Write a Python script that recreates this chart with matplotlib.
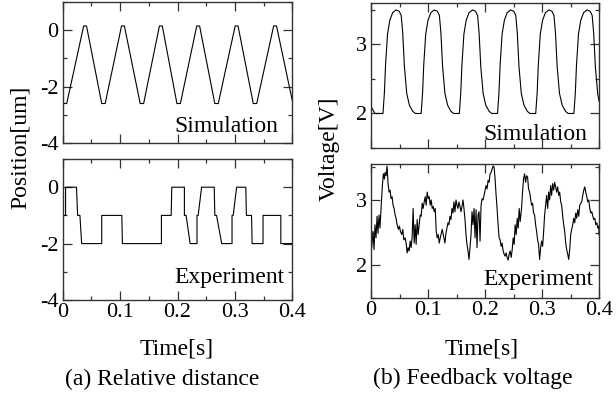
import matplotlib
matplotlib.use('Agg')
import matplotlib.pyplot as plt
from matplotlib.ticker import MultipleLocator, FormatStrFormatter

plt.rcParams['font.family'] = ['Liberation Serif', 'DejaVu Serif']
plt.rcParams['axes.unicode_minus'] = False

# (a) relative distance, simulation: triangle wave vertices
pos_sim_t = [0.000, 0.002, 0.007, 0.0365, 0.0415, 0.068, 0.074, 0.1025, 0.1075,
             0.135, 0.141, 0.1685, 0.1735, 0.199, 0.205, 0.2335, 0.2385,
             0.265, 0.271, 0.3005, 0.3055, 0.332, 0.338, 0.3675, 0.3725, 0.400]
pos_sim_v = [-2.42, -2.60, -2.60, 0.15, 0.15, -2.60, -2.60, 0.15, 0.15,
             -2.60, -2.60, 0.15, 0.15, -2.60, -2.60, 0.15, 0.15,
             -2.60, -2.60, 0.15, 0.15, -2.60, -2.60, 0.15, 0.15, -2.50]

# (a) relative distance, experiment: step trace vertices
pos_exp_t = [0.000, 0.005, 0.005, 0.024, 0.026, 0.030, 0.033, 0.068, 0.068, 0.103,
             0.104, 0.172, 0.172, 0.189, 0.190, 0.212, 0.212, 0.215, 0.222, 0.234,
             0.234, 0.236, 0.242, 0.264, 0.265, 0.268, 0.277, 0.295, 0.295, 0.297,
             0.303, 0.319, 0.320, 0.329, 0.330, 0.349, 0.349, 0.380, 0.380, 0.400]
pos_exp_v = [-1, -1, 0, 0, -1, -1, -2, -2, -1, -1,
             -2, -2, -1, -1, 0, 0, -1, -1, -2, -2,
             -1, -1, 0, 0, -1, -1, -2, -2, -1, -1,
             0, 0, -1, -1, -2, -2, -1, -1, -2, -2]

# (b) feedback voltage, simulation
volt_sim_t = [0.000, 0.007,
              0.0210, 0.0235, 0.0255, 0.0290, 0.0330, 0.0380, 0.0440, 0.0495, 0.0530, 0.0557, 0.0586, 0.0627, 0.0674, 0.0733, 0.0780,
              0.0880, 0.0905, 0.0925, 0.0960, 0.1000, 0.1050, 0.1110, 0.1165, 0.1200, 0.1227, 0.1256, 0.1297, 0.1344, 0.1403, 0.1450,
              0.1550, 0.1575, 0.1595, 0.1630, 0.1670, 0.1720, 0.1780, 0.1835, 0.1870, 0.1897, 0.1926, 0.1967, 0.2014, 0.2073, 0.2120,
              0.2220, 0.2245, 0.2265, 0.2300, 0.2340, 0.2390, 0.2450, 0.2505, 0.2540, 0.2567, 0.2596, 0.2637, 0.2684, 0.2743, 0.2790,
              0.2890, 0.2915, 0.2935, 0.2970, 0.3010, 0.3060, 0.3120, 0.3175, 0.3210, 0.3237, 0.3266, 0.3307, 0.3354, 0.3413, 0.3460,
              0.3560, 0.3585, 0.3605, 0.3640, 0.3680, 0.3730, 0.3790, 0.3845, 0.3880, 0.3907, 0.3936, 0.3977, 0.4000]
volt_sim_v = [2.10, 2.00,
              2.00, 2.30, 2.70, 3.15, 3.35, 3.46, 3.50, 3.48, 3.42, 3.16, 2.68, 2.29, 2.12, 2.03, 2.00,
              2.00, 2.30, 2.70, 3.15, 3.35, 3.46, 3.50, 3.48, 3.42, 3.16, 2.68, 2.29, 2.12, 2.03, 2.00,
              2.00, 2.30, 2.70, 3.15, 3.35, 3.46, 3.50, 3.48, 3.42, 3.16, 2.68, 2.29, 2.12, 2.03, 2.00,
              2.00, 2.30, 2.70, 3.15, 3.35, 3.46, 3.50, 3.48, 3.42, 3.16, 2.68, 2.29, 2.12, 2.03, 2.00,
              2.00, 2.30, 2.70, 3.15, 3.35, 3.46, 3.50, 3.48, 3.42, 3.16, 2.68, 2.29, 2.12, 2.03, 2.00,
              2.00, 2.30, 2.70, 3.15, 3.35, 3.46, 3.50, 3.48, 3.42, 3.16, 2.68, 2.29, 2.18]

# (b) feedback voltage, experiment
volt_exp_t = [0.0000, 0.0012, 0.0035, 0.0053, 0.0070, 0.0088, 0.0106, 0.0123, 0.0141, 0.0158,
              0.0176, 0.0200, 0.0217, 0.0235, 0.0246, 0.0264, 0.0282, 0.0299, 0.0317, 0.0335,
              0.0352, 0.0370, 0.0387, 0.0405, 0.0423, 0.0440, 0.0458, 0.0481, 0.0499, 0.0516,
              0.0540, 0.0558, 0.0575, 0.0599, 0.0616, 0.0634, 0.0651, 0.0669, 0.0687, 0.0704,
              0.0722, 0.0739, 0.0757, 0.0775, 0.0792, 0.0810, 0.0827, 0.0845, 0.0863, 0.0880,
              0.0898, 0.0915, 0.0933, 0.0951, 0.0968, 0.0986, 0.1004, 0.1021, 0.1039, 0.1056,
              0.1074, 0.1092, 0.1109, 0.1127, 0.1144, 0.1162, 0.1180, 0.1197, 0.1215,
              0.1250, 0.1279, 0.1297, 0.1315, 0.1332, 0.1350, 0.1367, 0.1385, 0.1403, 0.1420,
              0.1438, 0.1455, 0.1473, 0.1491, 0.1508, 0.1526, 0.1543, 0.1561, 0.1579, 0.1596,
              0.1614, 0.1631, 0.1649, 0.1667, 0.1684, 0.1702, 0.1719, 0.1737, 0.1755, 0.1772,
              0.1790, 0.1808, 0.1825, 0.1843, 0.1860, 0.1878, 0.1896, 0.1913, 0.1931, 0.1948,
              0.1966, 0.1984, 0.2001, 0.2019, 0.2036, 0.2054, 0.2072, 0.2089, 0.2107, 0.2124,
              0.2142, 0.2160, 0.2177, 0.2195, 0.2212, 0.2230, 0.2248, 0.2265, 0.2283, 0.2300,
              0.2318, 0.2336, 0.2353, 0.2371, 0.2388, 0.2406, 0.2424, 0.2441, 0.2459, 0.2477,
              0.2494, 0.2512, 0.2529, 0.2547, 0.2565, 0.2582, 0.2600, 0.2617,
              0.2641, 0.2659, 0.2676, 0.2694, 0.2712, 0.2729, 0.2747, 0.2764, 0.2782, 0.2800,
              0.2817, 0.2835, 0.2852, 0.2870, 0.2888, 0.2905, 0.2923, 0.2940, 0.2958, 0.2976,
              0.2993, 0.3011, 0.3029, 0.3046, 0.3064, 0.3081, 0.3099, 0.3117, 0.3134, 0.3152,
              0.3169, 0.3187, 0.3205, 0.3222, 0.3240, 0.3257, 0.3275, 0.3293, 0.3310, 0.3328,
              0.3345, 0.3363, 0.3381, 0.3398, 0.3416, 0.3433, 0.3451, 0.3469, 0.3486, 0.3504,
              0.3521, 0.3539, 0.3557, 0.3574, 0.3592, 0.3609, 0.3627, 0.3645, 0.3662, 0.3680,
              0.3697, 0.3715, 0.3733, 0.3750, 0.3768, 0.3786, 0.3803, 0.3821, 0.3838, 0.3856,
              0.3874, 0.3891, 0.3909, 0.3927, 0.3944, 0.3962, 0.3979, 0.3997, 0.4000]
volt_exp_v = [2.47, 2.27, 2.52, 2.24, 2.62, 2.42, 2.75, 2.49, 2.77, 2.57,
              2.87, 3.22, 3.40, 3.32, 3.42, 3.37, 3.52, 3.25, 3.12, 3.15,
              3.02, 3.05, 2.92, 2.87, 2.77, 2.72, 2.62, 2.55, 2.60, 2.52,
              2.47, 2.55, 2.39, 2.42, 2.34, 2.19, 2.27, 2.22, 2.37, 2.27,
              2.44, 2.87, 2.34, 2.62, 2.32, 2.70, 2.47, 2.62, 2.77, 2.75,
              2.95, 2.87, 2.97, 3.05, 2.92, 3.12, 3.02, 3.05, 2.92, 3.00,
              2.87, 2.90, 2.82, 2.87, 2.52, 2.42, 2.47, 2.34, 2.42,
              2.55, 2.42, 2.34, 2.49, 2.57, 2.65, 2.62, 2.75, 2.70, 2.87,
              2.80, 2.97, 2.82, 3.00, 2.92, 2.87, 2.97, 2.90, 2.82, 2.90,
              3.00, 2.87, 2.70, 2.47, 2.32, 2.22, 2.09, 2.27, 2.47, 2.82,
              2.62, 2.87, 2.42, 2.85, 2.27, 2.77, 2.82, 2.37, 2.92, 3.02,
              3.00, 3.07, 3.15, 3.22, 3.17, 3.30, 3.27, 3.40, 3.42, 3.47,
              3.52, 3.50, 3.32, 3.07, 2.87, 2.62, 2.42, 2.39, 2.29, 2.34,
              2.22, 2.17, 2.14, 2.19, 2.12, 2.08, 2.17, 2.22, 2.12, 2.24,
              2.42, 2.32, 2.62, 2.47, 2.72, 2.57, 2.87, 2.67,
              2.87, 3.12, 3.32, 3.40, 3.27, 3.37, 3.35, 3.17, 3.12, 3.02,
              2.92, 2.95, 2.80, 2.77, 2.62, 2.52, 2.39, 2.32, 2.09, 2.27,
              2.37, 2.29, 2.52, 2.77, 2.92, 3.07, 2.87, 3.12, 3.00, 3.22,
              3.07, 3.25, 3.15, 3.27, 3.20, 3.12, 3.20, 3.07, 3.12, 2.97,
              2.92, 2.75, 2.62, 2.52, 2.34, 2.24, 2.17, 2.09, 2.24, 2.47,
              2.55, 2.62, 2.72, 2.65, 2.80, 2.72, 2.85, 2.75, 2.92, 2.95,
              2.97, 3.07, 3.15, 3.20, 3.12, 3.05, 2.97, 3.00, 2.87, 2.80,
              2.82, 2.75, 2.70, 2.72, 2.62, 2.65, 2.57, 2.60, 2.47]

time_ticks = [0, 0.1, 0.2, 0.3, 0.4]

W, H = 616, 396
fig = plt.figure(figsize=(W / 100, H / 100), dpi=100)


def px_axes(x0, x1, y0, y1):
    return fig.add_axes([x0 / W, 1 - y1 / H, (x1 - x0) / W, (y1 - y0) / H])


def style(ax, ylim, ymajor, yminor, show_x):
    ax.set_xlim(0, 0.4)
    ax.set_ylim(*ylim)
    ax.xaxis.set_major_locator(MultipleLocator(0.1))
    ax.xaxis.set_minor_locator(MultipleLocator(0.05))
    ax.yaxis.set_major_locator(MultipleLocator(ymajor))
    ax.yaxis.set_minor_locator(MultipleLocator(yminor))
    ax.xaxis.set_major_formatter(FormatStrFormatter('%g'))
    ax.yaxis.set_major_formatter(FormatStrFormatter('%g'))
    ax.tick_params(which='both', direction='in', top=True, right=True,
                   width=0.9, color='#333333', labelsize=16)
    ax.tick_params(which='major', length=6.5)
    ax.tick_params(which='minor', length=3)
    ax.tick_params(axis='y', pad=3)
    ax.tick_params(axis='x', pad=2, labelbottom=show_x)
    for s in ax.spines.values():
        s.set_linewidth(1.0)
        s.set_color('#333333')


ax1 = px_axes(62.7, 292.3, 2, 143)
ax1.plot(pos_sim_t, pos_sim_v, color='black', lw=0.8)
style(ax1, (-4, 1), 2, 1, False)
ax1.text(0.938, 0.078, 'Simulation', transform=ax1.transAxes, ha='right',
         va='baseline', fontsize=17)

ax2 = px_axes(62.7, 292.3, 159, 300)
ax2.plot(pos_exp_t, pos_exp_v, color='black', lw=0.8)
style(ax2, (-4, 1), 2, 1, True)
ax2.set_xticks(time_ticks)
ax2.text(0.968, 0.118, 'Experiment', transform=ax2.transAxes, ha='right',
         va='baseline', fontsize=17)

ax3 = px_axes(371, 599, 3, 148)
ax3.plot(volt_sim_t, volt_sim_v, color='black', lw=0.8)
style(ax3, (1.5, 3.6), 1, 0.5, False)
ax3.text(0.947, 0.055, 'Simulation', transform=ax3.transAxes, ha='right',
         va='baseline', fontsize=17)

ax4 = px_axes(371, 599, 164, 298)
ax4.plot(volt_exp_t, volt_exp_v, color='black', lw=0.8)
style(ax4, (1.5, 3.55), 1, 0.5, True)
ax4.set_xticks(time_ticks)
ax4.text(0.975, 0.097, 'Experiment', transform=ax4.transAxes, ha='right',
         va='baseline', fontsize=17)

fig.text(20 / W, 1 - 147 / H, 'Position[um]', rotation=90, ha='center',
         va='center', fontsize=17)
fig.text(329 / W, 1 - 149 / H, 'Voltage[V]', rotation=90, ha='center',
         va='center', fontsize=17)
fig.text(177 / W, 1 - 355 / H, 'Time[s]', ha='center', va='baseline', fontsize=17)
fig.text(482 / W, 1 - 355 / H, 'Time[s]', ha='center', va='baseline', fontsize=17)
fig.text(162 / W, 1 - 385 / H, '(a) Relative distance', ha='center',
         va='baseline', fontsize=17)
fig.text(473 / W, 1 - 384 / H, '(b) Feedback voltage', ha='center',
         va='baseline', fontsize=17)

fig.savefig('out.png', dpi=100)
